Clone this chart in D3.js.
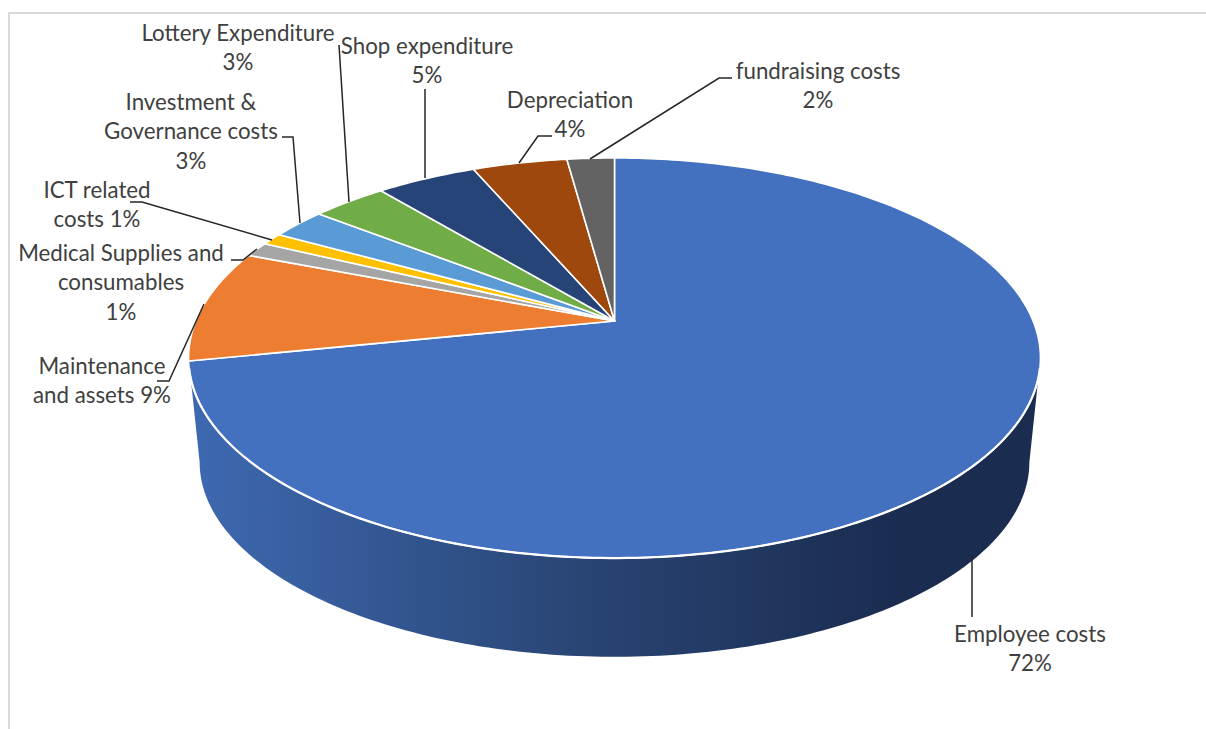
<!DOCTYPE html>
<html>
<head>
<meta charset="utf-8">
<script src="https://cdn.jsdelivr.net/npm/d3@7/dist/d3.min.js"></script>
<style>
html,body{margin:0;padding:0;background:#fff;overflow:hidden}
svg{display:block}
</style>
</head>
<body>
<svg id="chart" width="1206" height="729"></svg>
<script>
// Data
const categories = ["Employee costs","Maintenance and assets","Medical Supplies and consumables","ICT related costs","Investment & Governance costs","Lottery Expenditure","Shop expenditure","Depreciation","fundraising costs"];
const values = [71.8, 9.1, 1.2, 1.0, 2.5, 3.4, 4.55, 4.3, 2.15];
const percentLabels = ["72%","9%","1%","1%","3%","3%","5%","4%","2%"];
const labelLines = [
  ["Employee costs","72%"],
  ["Maintenance","and assets 9%"],
  ["Medical Supplies and","consumables","1%"],
  ["ICT related","costs 1%"],
  ["Investment &","Governance costs","3%"],
  ["Lottery Expenditure","3%"],
  ["Shop expenditure","5%"],
  ["Depreciation","4%"],
  ["fundraising costs","2%"]
];
const colors = ["#4371C0","#ED7D31","#A5A5A5","#FFC000","#5B9BD5","#70AD47","#264478","#9E480E","#636363"];

// Layout (positions only)
const labelCentres = [[1030,635],[102,367],[121,254],[97,191],[191,103],[238,34],[427,47],[570,101],[818,72]];
const leaders = [
  [[972,555],[972,617]],
  [[157,381],[169,381],[204,304]],
  [[231,260],[243,260],[257,249]],
  [[130,202],[142,202],[272,240]],
  [[282,137],[293,137],[300,223]],
  [[339,45],[349,202]],
  [[425,89],[425,178]],
  [[552,136],[538,136],[519,163]],
  [[732,78],[719,78],[590,159]]
];

const svg = d3.select("#chart");
const lineHeight = 29.3, fontSize = 22.3;

// Perspective projection of the pie's circular top onto the screen
const cx = 614.5, apexY = 321, k = 0.185, A = 418.6, B = 133.8;
const project = (angle, r = 1) => {
  const u = r * Math.sin(angle), v = -r * Math.cos(angle), w = 1 - k * v;
  return [cx + A * u / w, (apexY + B * v) / w];
};
// The base of the pie: same shape, slightly smaller, lower on the page
const baseScale = 0.974, topMidY = 358, baseMidY = 462;
const projectBase = a => {
  const [x, y] = project(a);
  return [cx + baseScale * (x - cx), baseMidY + baseScale * (y - topMidY)];
};

const tau = 2 * Math.PI;
const line = d3.line();
const sampled = (a0, a1, f) => d3.range(0, 1.0001, 1 / Math.max(2, Math.ceil(Math.abs(a1 - a0) * 60))).map(t => f(a0 + (a1 - a0) * t));

// Frame
const frame = svg.append("g").attr("fill", "none").attr("stroke", "#d9d9d9").attr("stroke-width", 2);
frame.append("path").attr("d", line([[9, 729], [9, 13], [1206, 13]]));

// Side wall
const grad = svg.append("defs").append("linearGradient").attr("id", "wall")
  .attr("gradientUnits", "userSpaceOnUse").attr("x1", 190).attr("x2", 900).attr("y1", 0).attr("y2", 0);
grad.append("stop").attr("offset", 0).attr("stop-color", "#3e69b1");
grad.append("stop").attr("offset", 0.55).attr("stop-color", "#294574");
grad.append("stop").attr("offset", 1).attr("stop-color", "#1a2c50");

// Widest points of the top outline sit where v = k in the circle
const rightAngle = Math.PI - Math.asin(Math.sqrt(1 - k * k)), leftAngle = tau - rightAngle;
const wallPts = sampled(rightAngle, leftAngle, project).concat(sampled(leftAngle, rightAngle, projectBase));
svg.append("path").attr("d", line(wallPts) + "Z").attr("fill", "url(#wall)");

// Top slices
const pie = d3.pie().value(d => d).sort(null)(values);
const sliceLayer = svg.append("g").attr("stroke", "#fff").attr("stroke-width", 1.6).attr("stroke-linejoin", "round");
sliceLayer.selectAll("path").data(pie).join("path")
  .attr("fill", (d, i) => colors[i])
  .attr("d", d => line([[cx, apexY]].concat(sampled(d.startAngle, d.endAngle, project))) + "Z");

// Bright rim where the top meets the wall
svg.append("path").attr("fill", "none").attr("stroke", "#fff").attr("stroke-width", 2.2)
  .attr("d", line(sampled(rightAngle + 0.05, leftAngle - 0.05, project)));

// Leader lines
svg.append("g").attr("fill", "none").attr("stroke", "#262626").attr("stroke-width", 1.5)
  .selectAll("path").data(leaders).join("path").attr("d", d => line(d));

// Labels
const labels = svg.append("g").attr("font-family", "Lato, 'Open Sans', sans-serif")
  .attr("font-size", fontSize).attr("fill", "#404040").attr("text-anchor", "middle");
labels.selectAll("text").data(labelLines).join("text")
  .attr("x", (d, i) => labelCentres[i][0])
  .attr("y", (d, i) => labelCentres[i][1] + 7)
  .each(function (d, i) {
    d3.select(this).selectAll("tspan").data(d).join("tspan")
      .attr("x", labelCentres[i][0])
      .attr("dy", (s, j) => j === 0 ? 0 : lineHeight)
      .text(s => s);
  });
</script>
</body>
</html>
